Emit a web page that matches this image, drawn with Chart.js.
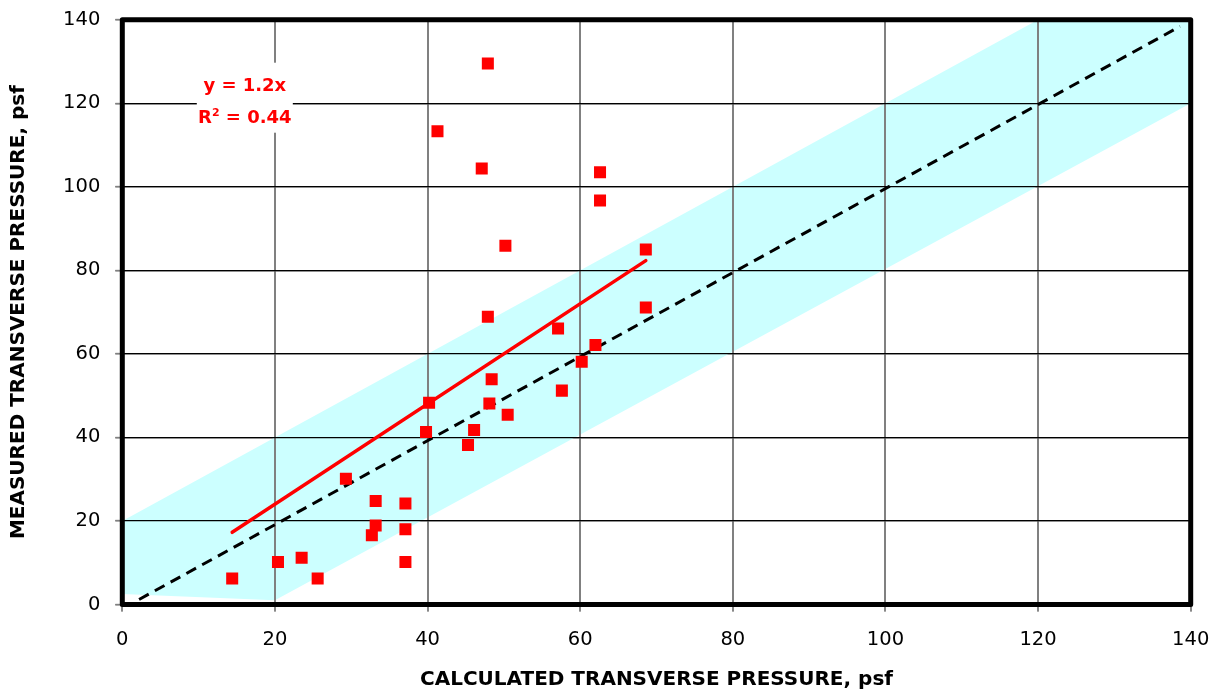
<!DOCTYPE html>
<html>
<head>
<meta charset="utf-8">
<script src="https://cdn.jsdelivr.net/npm/chart.js@4/dist/chart.umd.min.js"></script>
<style>
  html, body { margin: 0; padding: 0; background: #fff; }
  #wrap { width: 1225px; height: 696px; }
</style>
</head>
<body>
<div id="wrap"><canvas id="c" width="1225" height="696"></canvas></div>
<script>
// Calculated vs. measured transverse pressure (psf)
const calcPressure = [14.4, 20.4, 23.5, 25.6, 29.3, 32.7, 33.2, 33.2, 37.1, 37.1, 37.1, 39.8, 40.2, 41.3, 45.3, 46.1,
                      47.1, 47.9, 47.9, 48.1, 48.4, 50.2, 50.5, 57.1, 57.6, 60.2, 62.0, 62.6, 62.6, 68.6, 68.6];
const measPressure = [6.2, 10.2, 11.2, 6.2, 30.1, 16.6, 18.9, 24.8, 10.2, 18.0, 24.2, 41.3, 48.3, 113.3, 38.2, 41.8,
                      104.4, 129.5, 68.9, 48.1, 53.9, 85.9, 45.4, 66.1, 51.2, 58.1, 62.1, 103.5, 96.7, 85.0, 71.1];

// Linear fit through the origin
const fitSlope = 1.2;
const fitR2 = 0.44;

// Shaded +/- 20 psf band around the 1:1 line (closed outline)
const bandX = [0, 120, 140, 140, 20, 0];
const bandY = [20, 140, 140, 120, 1, 2.5];

// 1:1 reference line
const equalityX = [2.2, 138.6];
const equalityY = [1.2, 138.4];

// Axis ticks
const tickValues = [0, 20, 40, 60, 80, 100, 120, 140];

const xTitle = 'CALCULATED TRANSVERSE PRESSURE, psf';
const yTitle = 'MEASURED TRANSVERSE PRESSURE, psf';

const zip = (xs, ys) => xs.map((x, i) => ({ x: x, y: ys[i] }));
const fitStart = Math.min(...calcPressure);
const fitEnd = Math.max(...calcPressure);
const fitLine = [fitStart, fitEnd].map(x => ({ x: x, y: fitSlope * x }));

const TICK_FONT = { family: 'DejaVu Sans', size: 19.5 };
const TITLE_FONT = { family: 'DejaVu Sans', size: 20, weight: 'bold' };

// Scales keep a fixed size; the layout padding alone sets the plot margins
const fixSize = (w, h) => s => {
  if (w !== null) s.width = w;
  if (h !== null) s.height = h;
  s.paddingTop = 0; s.paddingBottom = 0; s.paddingLeft = 0; s.paddingRight = 0;
};

// Re-stroke the grid over the shaded band, then frame the plot area
const gridOverBand = {
  id: 'gridOverBand',
  afterDatasetDraw(chart, args) {
    if (chart.data.datasets[args.index].label !== 'band') return;
    chart.scales.x.drawGrid(chart.chartArea);
    chart.scales.y.drawGrid(chart.chartArea);
  },
  afterDatasetsDraw(chart) {
    const a = chart.chartArea;
    const ctx = chart.ctx;
    ctx.save();
    ctx.strokeStyle = '#000';
    ctx.lineWidth = 5;
    ctx.lineJoin = 'round';
    ctx.strokeRect(a.left, a.top, a.right - a.left, a.bottom - a.top);
    ctx.restore();
  }
};

// Regression equation label with white background
const fitLabel = {
  id: 'fitLabel',
  afterDraw(chart) {
    const ctx = chart.ctx;
    const a = chart.chartArea;
    const cx = a.left + 122.5;
    const top = a.top + 43;
    ctx.save();
    ctx.fillStyle = '#fff';
    ctx.fillRect(cx - 48, top, 96, 70);
    ctx.fillStyle = '#ff0000';
    ctx.textBaseline = 'alphabetic';
    ctx.font = 'bold 18px "DejaVu Sans"';
    ctx.textAlign = 'center';
    ctx.fillText('y = ' + fitSlope.toFixed(1) + 'x', cx, top + 28);

    const main = 'R';
    const rest = ' = ' + fitR2.toFixed(2);
    ctx.textAlign = 'left';
    const wR = ctx.measureText(main).width;
    const wRest = ctx.measureText(rest).width;
    ctx.font = 'bold 11px "DejaVu Sans"';
    const wSup = ctx.measureText('2').width;
    const total = wR + wSup + wRest;
    let x = cx - total / 2;
    const base = top + 60;
    ctx.font = 'bold 18px "DejaVu Sans"';
    ctx.fillText(main, x, base);
    x += wR;
    ctx.font = 'bold 11px "DejaVu Sans"';
    ctx.fillText('2', x, base - 7);
    x += wSup;
    ctx.font = 'bold 18px "DejaVu Sans"';
    ctx.fillText(rest, x, base);
    ctx.restore();
  }
};

new Chart(document.getElementById('c'), {
  type: 'scatter',
  data: {
    datasets: [
      {
        label: 'band',
        type: 'line',
        data: zip(bandX, bandY),
        backgroundColor: '#ccffff',
        borderColor: '#ccffff',
        borderWidth: 0,
        pointRadius: 0,
        fill: 'shape',
        tension: 0,
        order: 4
      },
      {
        label: '1:1',
        type: 'line',
        data: zip(equalityX, equalityY),
        borderColor: '#000',
        borderWidth: 3,
        borderDash: [11, 7],
        pointRadius: 0,
        fill: false,
        order: 3
      },
      {
        label: 'fit',
        type: 'line',
        data: fitLine,
        borderColor: '#ff0000',
        borderWidth: 3.5,
        borderCapStyle: 'round',
        pointRadius: 0,
        fill: false,
        order: 2
      },
      {
        label: 'measured',
        data: zip(calcPressure, measPressure),
        pointStyle: 'rect',
        pointRadius: 8.5,
        backgroundColor: '#ff0000',
        borderWidth: 0,
        order: 1
      }
    ]
  },
  options: {
    responsive: false,
    animation: false,
    events: [],
    layout: { padding: { top: 19.7, right: 34.3, bottom: 0, left: 0 } },
    plugins: { legend: { display: false }, tooltip: { enabled: false } },
    scales: {
      x: {
        type: 'linear',
        min: 0,
        max: 140,
        afterBuildTicks: s => { s.ticks = tickValues.map(v => ({ value: v })); },
        afterFit: fixSize(null, 91.5),
        border: { display: false },
        grid: { color: '#808080', lineWidth: 2, tickLength: 7, tickColor: '#808080', tickWidth: 1.5 },
        ticks: { color: '#000', font: TICK_FONT, padding: 17, maxRotation: 0 },
        title: { display: true, text: xTitle, color: '#000', font: TITLE_FONT, padding: { top: 0, bottom: 4 } }
      },
      y: {
        type: 'linear',
        min: 0,
        max: 140,
        afterBuildTicks: s => { s.ticks = tickValues.map(v => ({ value: v })); },
        afterFit: fixSize(122.3, null),
        border: { display: false },
        grid: { color: '#000', lineWidth: 1.3, tickLength: 7, tickColor: '#808080', tickWidth: 1.5 },
        ticks: { color: '#000', font: TICK_FONT, padding: 15 },
        title: { display: true, text: yTitle, color: '#000', font: TITLE_FONT, padding: { top: 6.5, bottom: 0 } }
      }
    }
  },
  plugins: [gridOverBand, fitLabel]
});
</script>
</body>
</html>
